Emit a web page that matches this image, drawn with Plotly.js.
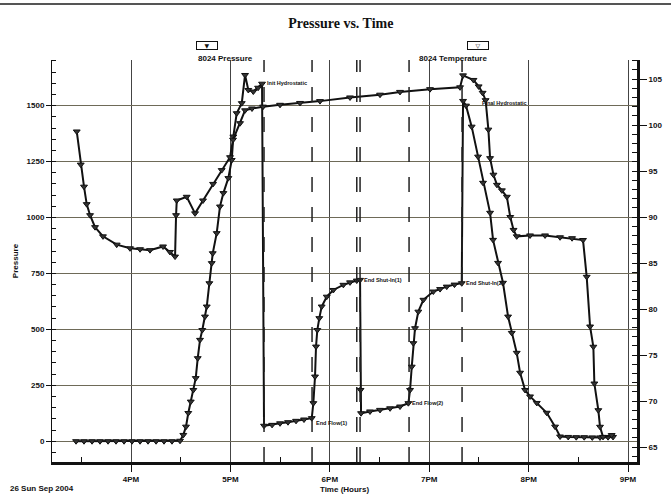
<!DOCTYPE html>
<html><head><meta charset="utf-8">
<script src="https://cdn.plot.ly/plotly-3.0.1.min.js"></script>
<style>html,body{margin:0;padding:0;background:#fff}#chart{width:671px;height:500px}</style>
</head><body><div id="chart"></div>
<script>
// time in decimal hours of the day (16 = 4PM)
const pressureTime = [15.447,15.527,15.608,15.688,15.769,15.849,15.930,16.010,16.091,16.171,16.252,16.332,16.412,16.493,16.526,16.553,16.576,16.601,16.627,16.651,16.671,16.694,16.717,16.744,16.762,16.788,16.812,16.822,16.862,16.895,16.929,16.979,17.013,17.029,17.063,17.114,17.147,17.180,17.230,17.278,17.318,17.338,17.419,17.499,17.579,17.660,17.740,17.818,17.834,17.851,17.861,17.874,17.894,17.918,17.969,18.035,18.136,18.203,18.271,18.304,18.309,18.314,18.404,18.505,18.606,18.706,18.790,18.807,18.824,18.840,18.857,18.890,18.941,19.041,19.109,19.176,19.254,19.327,19.340,19.370,19.427,19.491,19.541,19.612,19.642,19.692,19.742,19.793,19.830,19.880,19.914,19.964,20.014,20.082,20.182,20.266,20.316,20.398,20.479,20.559,20.640,20.718,20.799,20.849];
const pressureValue = [0,0,0,0,0,0,0,0,0,0,0,0,0,2,28,65,126,177,229,282,371,453,497,557,602,706,796,840,930,1049,1109,1176,1257,1362,1466,1511,1637,1570,1563,1580,1598,69,73,80,85,91,97,103,170,289,423,497,550,602,646,676,699,710,718,721,229,125,133,140,147,155,170,229,333,438,505,579,632,669,680,691,700,706,1521,1500,1406,1272,1155,1021,900,797,708,557,484,395,306,229,200,171,127,65,21,19,18,18,17,17,18,19];
const temperatureTime = [15.454,15.494,15.527,15.554,15.588,15.638,15.718,15.856,15.990,16.091,16.191,16.322,16.392,16.443,16.453,16.460,16.560,16.644,16.724,16.825,16.912,16.996,17.026,17.097,17.147,17.217,17.328,17.499,17.700,17.901,18.203,18.505,18.706,19.008,19.310,19.340,19.445,19.497,19.537,19.567,19.595,19.612,19.646,19.681,19.731,19.781,19.815,19.848,19.880,20.014,20.165,20.316,20.437,20.547,20.584,20.618,20.651,20.661,20.701,20.718,20.748,20.835];
const temperatureValue = [99.3,95.7,93.3,91.4,90.2,88.9,87.9,87.0,86.6,86.5,86.4,86.8,86.2,85.7,90.2,91.8,92.2,90.4,91.8,93.6,95.1,96.5,98.4,100.2,101.6,101.8,102.0,102.2,102.4,102.6,103.0,103.3,103.6,103.9,104.1,105.4,104.9,104.2,103.5,102.7,99.5,96.4,94.6,93.5,92.9,92.2,90.0,88.6,87.9,88.0,88.0,87.8,87.7,87.5,83.5,78.1,75.9,71.9,69.0,67.2,66.1,66.3];
const hourTicks = [16,17,18,19,20,21];
const hourLabels = ['4PM','5PM','6PM','7PM','8PM','9PM'];
const halfHourTicks = [15.5,16.5,17.5,18.5,19.5,20.5];
const eventTimes = [17.338,17.821,18.271,18.304,18.797,19.330];
const eventLabelText = ['Init Hydrostatic','End Flow(1)','End Shut-In(1)','End Flow(2)','End Shut-In(2)','Final Hydrostatic'];
const eventLabelTime = [17.33,17.818,18.304,18.790,19.327,19.49];
const eventLabelPressure = [1600,80,721,170,706,1511];

const bold = {family:'Liberation Sans, Arial, sans-serif', size:8, color:'#111', weight:'bold'};

const traces = [
  {x:pressureTime, y:pressureValue, type:'scatter', mode:'lines+markers', name:'8024 Pressure',
   line:{color:'#111', width:2}, marker:{symbol:'triangle-down', size:6, color:'#333', line:{color:'#111', width:1}}},
  {x:temperatureTime, y:temperatureValue, yaxis:'y2', type:'scatter', mode:'lines+markers', name:'8024 Temperature',
   line:{color:'#111', width:2}, marker:{symbol:'triangle-down', size:6, color:'#333', line:{color:'#111', width:1}}}
];

const shapes = eventTimes.map(t => ({type:'line', xref:'x', yref:'paper', x0:t, x1:t, y0:0, y1:1,
  line:{color:'#222', width:1.5, dash:'longdash'}}));
shapes.push({type:'line', xref:'paper', yref:'paper', x0:-0.09, x1:1.06, y0:1.139, y1:1.139, line:{color:'#555', width:2}});

const annotations = eventLabelText.map((txt,i) => ({x:eventLabelTime[i], y:eventLabelPressure[i], xref:'x', yref:'y',
  text:txt, showarrow:false, xanchor:'left', yanchor:'middle', xshift:2, font:{family:'Liberation Sans, Arial, sans-serif', size:5.5, color:'#111', weight:'bold'}}));
annotations.push(
  {x:0.246, y:1.047, xref:'paper', yref:'paper', text:'▼', showarrow:false, font:{family:'DejaVu Sans', size:6, color:'#111'}, bordercolor:'#111', borderwidth:1, borderpad:0, width:20, height:7},
  {x:0.246, y:1.02, xref:'paper', yref:'paper', text:'8024 Pressure', showarrow:false, font:bold},
  {x:0.747, y:1.047, xref:'paper', yref:'paper', text:'▽', showarrow:false, font:{family:'DejaVu Sans', size:6, color:'#111'}, bordercolor:'#111', borderwidth:1, borderpad:0, width:20, height:7},
  {x:0.747, y:1.02, xref:'paper', yref:'paper', text:'8024 Temperature', showarrow:false, font:bold},
  {x:-0.075, y:-0.065, xref:'paper', yref:'paper', text:'26 Sun Sep 2004', showarrow:false, xanchor:'left', yanchor:'middle', font:bold}
);

const layout = {
  width:671, height:500,
  margin:{l:52, r:34, t:60, b:38},
  paper_bgcolor:'#fff', plot_bgcolor:'#fff',
  showlegend:false,
  title:{text:'Pressure vs. Time', x:0.508, xanchor:'center', y:0.954, yanchor:'middle',
    font:{family:'Liberation Serif, Times New Roman, serif', size:14, color:'#111', weight:'bold'}},
  xaxis:{range:[15.205,21.09], tickmode:'array', tickvals:hourTicks, ticktext:hourLabels,
    ticks:'outside', ticklen:7, tickcolor:'#111', tickfont:bold,
    showgrid:true, gridcolor:'#444', gridwidth:1, zeroline:false,
    showline:true, linecolor:'#111', linewidth:3,
    minor:{tickmode:'array', tickvals:halfHourTicks, ticks:'inside', ticklen:5, tickcolor:'#111', showgrid:false},
    title:{text:'Time (Hours)', font:bold, standoff:4}},
  yaxis:{range:[-93,1704], tickmode:'linear', tick0:0, dtick:250,
    ticks:'outside', ticklen:5, tickcolor:'#111', tickfont:bold,
    showgrid:true, gridcolor:'#6e6a58', gridwidth:1, zeroline:false,
    showline:true, linecolor:'#111', linewidth:1,
    minor:{dtick:50, ticks:'inside', ticklen:4, tickcolor:'#111', showgrid:false},
    title:{text:'Pressure', font:bold, standoff:6}},
  yaxis2:{overlaying:'y', side:'right', range:[63.37,107.07], tickmode:'linear', tick0:65, dtick:5,
    ticks:'outside', ticklen:7, tickcolor:'#111', tickfont:bold,
    showgrid:false, zeroline:false, showline:true, linecolor:'#111', linewidth:3,
    minor:{dtick:1, ticks:'inside', ticklen:5, tickcolor:'#111', showgrid:false}},
  shapes:shapes,
  annotations:annotations
};

Plotly.newPlot('chart', traces, layout, {displayModeBar:false, staticPlot:true});
</script>
</body></html>
